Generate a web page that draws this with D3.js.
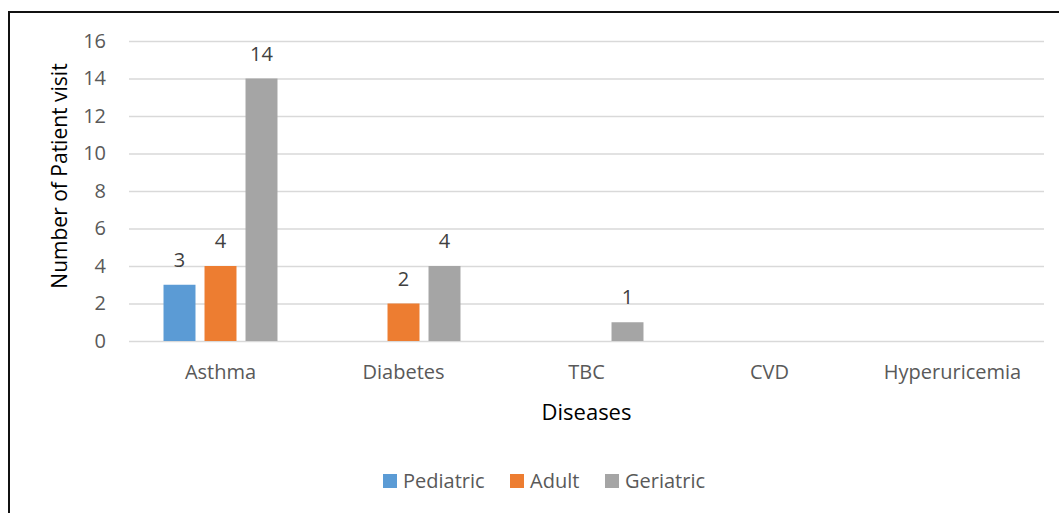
<!DOCTYPE html>
<html>
<head>
<meta charset="utf-8">
<script src="https://cdn.jsdelivr.net/npm/d3@7"></script>
<style>
  html, body { margin: 0; padding: 0; background: #fff; }
  svg { display: block; }
  text { font-family: "Open Sans", "Noto Sans", sans-serif; }
</style>
</head>
<body>
<svg id="chart" width="1059" height="513"></svg>
<script>
const categories = ["Asthma", "Diabetes", "TBC", "CVD", "Hyperuricemia"];
const seriesNames = ["Pediatric", "Adult", "Geriatric"];
const pediatric = [3, 0, 0, 0, 0];
const adult = [4, 2, 0, 0, 0];
const geriatric = [14, 4, 1, 0, 0];
const yTicks = [0, 2, 4, 6, 8, 10, 12, 14, 16];
const colors = ["#5B9BD5", "#ED7D31", "#A5A5A5"];

const seriesValues = [pediatric, adult, geriatric];
const data = categories.map((c, i) => ({
  category: c,
  values: seriesNames.map((s, j) => ({ series: s, value: seriesValues[j][i] }))
}));

const svg = d3.select("#chart");
const plot = { left: 129, right: 1044, top: 41, bottom: 341 };

const x0 = d3.scaleBand().domain(categories).range([plot.left, plot.right]).paddingInner(0).paddingOuter(0);
const groupHalf = 61.5;
const x1 = d3.scaleBand().domain(seriesNames).range([-groupHalf, groupHalf]).paddingInner(0.22).paddingOuter(0.11);
const y = d3.scaleLinear().domain([0, 16]).range([plot.bottom, plot.top]);
const color = d3.scaleOrdinal().domain(seriesNames).range(colors);

// border (top and left visible)
svg.append("line").attr("x1", 8).attr("x2", 1059).attr("y1", 12).attr("y2", 12)
  .attr("stroke", "#111").attr("stroke-width", 2);
svg.append("line").attr("x1", 9).attr("x2", 9).attr("y1", 11).attr("y2", 513)
  .attr("stroke", "#111").attr("stroke-width", 2);

// gridlines
const yAxis = d3.axisLeft(y).tickValues(yTicks).tickSize(-(plot.right - plot.left)).tickPadding(23).tickFormat(d3.format("d"));
const gy = svg.append("g").attr("transform", `translate(${plot.left},0)`).call(yAxis);
gy.select(".domain").remove();
gy.selectAll(".tick line").attr("stroke", "#d9d9d9").attr("stroke-width", 1.5);
gy.selectAll(".tick text").attr("fill", "#595959").style("font-size", "20px")
  .attr("font-family", "Open Sans");

// x axis labels
const xAxis = d3.axisBottom(x0).tickSize(0).tickPadding(24);
const gx = svg.append("g").attr("transform", `translate(0,${plot.bottom})`).call(xAxis);
gx.select(".domain").remove();
gx.selectAll(".tick text").attr("fill", "#595959").style("font-size", "20px");

// bars
const groups = svg.append("g").selectAll("g").data(data).join("g")
  .attr("transform", d => `translate(${x0(d.category) + x0.bandwidth() / 2},0)`);

groups.selectAll("rect").data(d => d.values.filter(v => v.value > 0)).join("rect")
  .attr("x", d => x1(d.series))
  .attr("width", x1.bandwidth())
  .attr("y", d => y(d.value))
  .attr("height", d => y(0) - y(d.value))
  .attr("fill", d => color(d.series));

groups.selectAll("text").data(d => d.values.filter(v => v.value > 0)).join("text")
  .attr("x", d => x1(d.series) + x1.bandwidth() / 2)
  .attr("y", d => y(d.value) - 18)
  .attr("text-anchor", "middle")
  .attr("fill", "#404040")
  .style("font-size", "20px")
  .text(d => d.value);

// axis titles
svg.append("text")
  .attr("transform", `translate(67,176) rotate(-90)`)
  .attr("text-anchor", "middle")
  .attr("fill", "#000")
  .style("font-size", "21px")
  .text("Number of Patient visit");

svg.append("text")
  .attr("x", (plot.left + plot.right) / 2)
  .attr("y", 420)
  .attr("text-anchor", "middle")
  .attr("fill", "#000")
  .style("font-size", "22px")
  .text("Diseases");

// legend
const legendX = [383, 510, 605];
const legend = svg.append("g").selectAll("g").data(seriesNames).join("g")
  .attr("transform", (d, i) => `translate(${legendX[i]},474)`);
legend.append("rect").attr("width", 14).attr("height", 14).attr("fill", d => color(d));
legend.append("text").attr("x", 20).attr("y", 14).attr("fill", "#595959")
  .style("font-size", "20px").text(d => d);
</script>
</body>
</html>
